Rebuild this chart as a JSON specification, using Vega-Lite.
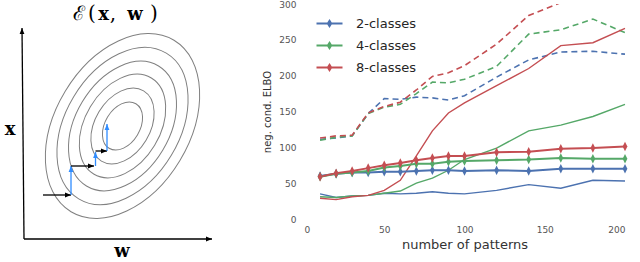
{
  "$schema": "https://vega.github.io/schema/vega-lite/v6.json",
  "background": "white",
  "padding": 0,
  "spacing": 22,
  "resolve": {"scale": {"color": "independent", "shape": "independent", "size": "independent"}, "legend": {"color": "independent"}},
  "config": {
    "view": {"stroke": null},
    "font": "DejaVu Sans"
  },
  "hconcat": [
    {
      "width": 240,
      "height": 262,
      "encoding": {
        "x": {"field": "x", "type": "quantitative", "scale": {"domain": [0, 240], "nice": false, "zero": false}, "axis": null},
        "y": {"field": "y", "type": "quantitative", "scale": {"domain": [-4, 258], "nice": false, "zero": false}, "axis": null}
      },
      "layer": [
        {
          "data": {"values": [
            {"x": 122.5, "y": 136, "r": 0.26},
            {"x": 122.5, "y": 136, "r": 0.41},
            {"x": 122.5, "y": 136, "r": 0.56},
            {"x": 122.5, "y": 136, "r": 0.70},
            {"x": 122.5, "y": 136, "r": 0.85},
            {"x": 122.5, "y": 136, "r": 1.0}
          ]},
          "mark": {"type": "point", "shape": "M 0 -1 A 0.67 1 0 0 1 0 1 A 0.67 1 0 0 1 0 -1 Z", "angle": 31, "filled": false, "stroke": "#808080", "strokeWidth": 1, "opacity": 1},
          "encoding": {
            "size": {"field": "r", "type": "quantitative", "scale": {"type": "pow", "exponent": 2, "domain": [0, 1], "range": [0, 40000]}, "legend": null}
          }
        },
        {
          "data": {"values": [
            {"x": 24, "y": 23, "x2": 22, "y2": 234, "kind": "axis", "dir": "up"},
            {"x": 24, "y": 23, "x2": 212, "y2": 23, "kind": "axis", "dir": "right"},
            {"x": 43, "y": 67, "x2": 71, "y2": 67, "kind": "w", "dir": "right"},
            {"x": 71, "y": 67, "x2": 71, "y2": 96, "kind": "x", "dir": "up"},
            {"x": 71, "y": 96, "x2": 94, "y2": 96, "kind": "w", "dir": "right"},
            {"x": 95.5, "y": 96, "x2": 95.5, "y2": 110, "kind": "x", "dir": "up"},
            {"x": 95.5, "y": 111, "x2": 107, "y2": 111, "kind": "w", "dir": "right"},
            {"x": 107, "y": 111, "x2": 107, "y2": 138, "kind": "x", "dir": "up"}
          ]},
          "layer": [
            {
              "mark": {"type": "rule", "strokeWidth": 1.3},
              "encoding": {
                "x2": {"field": "x2"},
                "y2": {"field": "y2"},
                "color": {"field": "kind", "type": "nominal", "scale": {"domain": ["axis", "w", "x"], "range": ["#000000", "#000000", "#2f8cff"]}, "legend": null}
              }
            },
            {
              "mark": {"type": "point", "filled": true, "opacity": 1, "size": 36},
              "encoding": {
                "x": {"field": "x2", "type": "quantitative"},
                "y": {"field": "y2", "type": "quantitative"},
                "shape": {"field": "dir", "type": "nominal", "scale": {"domain": ["right", "up"], "range": ["M 0 0 L -2 -0.8 L -2 0.8 Z", "M 0 0 L -0.8 2 L 0.8 2 Z"]}, "legend": null},
                "color": {"field": "kind", "type": "nominal", "scale": {"domain": ["axis", "w", "x"], "range": ["#000000", "#000000", "#2f8cff"]}, "legend": null}
              }
            }
          ]
        },
        {
          "data": {"values": [
            {"x": 78.5, "y": 242, "label": "ℰ", "style": "script"},
            {"x": 92, "y": 242, "label": "(", "style": "plain"},
            {"x": 103.5, "y": 242, "label": "x", "style": "bold"},
            {"x": 113, "y": 242, "label": ",", "style": "plain"},
            {"x": 135, "y": 242, "label": "w", "style": "bold"},
            {"x": 154, "y": 242, "label": ")", "style": "plain"}
          ]},
          "layer": [
            {
              "transform": [{"filter": "datum.style === 'script'"}],
              "mark": {"type": "text", "font": "DejaVu Serif", "fontSize": 20, "color": "#000000", "align": "center", "baseline": "alphabetic"},
              "encoding": {"text": {"field": "label"}}
            },
            {
              "transform": [{"filter": "datum.style === 'plain'"}],
              "mark": {"type": "text", "font": "DejaVu Serif", "fontSize": 20, "color": "#000000", "align": "center", "baseline": "alphabetic"},
              "encoding": {"text": {"field": "label"}}
            },
            {
              "transform": [{"filter": "datum.style === 'bold'"}],
              "mark": {"type": "text", "font": "DejaVu Serif", "fontSize": 18, "fontWeight": "bold", "color": "#000000", "align": "center", "baseline": "alphabetic"},
              "encoding": {"text": {"field": "label"}}
            }
          ]
        },
        {
          "data": {"values": [{"x": 10, "y": 132, "label": "x"}, {"x": 122, "y": 10, "label": "w"}]},
          "mark": {"type": "text", "font": "DejaVu Serif", "fontSize": 18, "fontWeight": "bold", "color": "#000000", "align": "center", "baseline": "middle"},
          "encoding": {"text": {"field": "label"}}
        }
      ]
    },
    {
      "width": 321,
      "height": 215,
      "data": {"values": [
        {"n": 10, "cls": "2-classes", "dashed": 111, "solid": 35, "mean": 60},
        {"n": 20, "cls": "2-classes", "dashed": 113, "solid": 30, "mean": 63},
        {"n": 30, "cls": "2-classes", "dashed": 116, "solid": 32, "mean": 65},
        {"n": 40, "cls": "2-classes", "dashed": 147, "solid": 33, "mean": 65},
        {"n": 50, "cls": "2-classes", "dashed": 168, "solid": 36, "mean": 66},
        {"n": 60, "cls": "2-classes", "dashed": 167, "solid": 35, "mean": 66},
        {"n": 70, "cls": "2-classes", "dashed": 170, "solid": 36, "mean": 67},
        {"n": 80, "cls": "2-classes", "dashed": 169, "solid": 38, "mean": 68},
        {"n": 90, "cls": "2-classes", "dashed": 166, "solid": 36, "mean": 68},
        {"n": 100, "cls": "2-classes", "dashed": 172, "solid": 35, "mean": 67},
        {"n": 120, "cls": "2-classes", "dashed": 198, "solid": 40, "mean": 68},
        {"n": 140, "cls": "2-classes", "dashed": 222, "solid": 48, "mean": 67},
        {"n": 160, "cls": "2-classes", "dashed": 233, "solid": 43, "mean": 70},
        {"n": 180, "cls": "2-classes", "dashed": 234, "solid": 54, "mean": 70},
        {"n": 200, "cls": "2-classes", "dashed": 230, "solid": 53, "mean": 70},
        {"n": 10, "cls": "4-classes", "dashed": 110, "solid": 31, "mean": 59},
        {"n": 20, "cls": "4-classes", "dashed": 114, "solid": 30, "mean": 63},
        {"n": 30, "cls": "4-classes", "dashed": 116, "solid": 32, "mean": 65},
        {"n": 40, "cls": "4-classes", "dashed": 147, "solid": 33, "mean": 67},
        {"n": 50, "cls": "4-classes", "dashed": 156, "solid": 36, "mean": 72},
        {"n": 60, "cls": "4-classes", "dashed": 160, "solid": 39, "mean": 74},
        {"n": 70, "cls": "4-classes", "dashed": 175, "solid": 50, "mean": 77},
        {"n": 80, "cls": "4-classes", "dashed": 191, "solid": 57, "mean": 77},
        {"n": 90, "cls": "4-classes", "dashed": 190, "solid": 68, "mean": 80},
        {"n": 100, "cls": "4-classes", "dashed": 195, "solid": 83, "mean": 81},
        {"n": 120, "cls": "4-classes", "dashed": 213, "solid": 99, "mean": 82},
        {"n": 140, "cls": "4-classes", "dashed": 258, "solid": 123, "mean": 83},
        {"n": 160, "cls": "4-classes", "dashed": 264, "solid": 131, "mean": 85},
        {"n": 180, "cls": "4-classes", "dashed": 279, "solid": 143, "mean": 84},
        {"n": 200, "cls": "4-classes", "dashed": 260, "solid": 160, "mean": 84},
        {"n": 10, "cls": "8-classes", "dashed": 113, "solid": 29, "mean": 59},
        {"n": 20, "cls": "8-classes", "dashed": 116, "solid": 27, "mean": 64},
        {"n": 30, "cls": "8-classes", "dashed": 117, "solid": 31, "mean": 67},
        {"n": 40, "cls": "8-classes", "dashed": 148, "solid": 33, "mean": 71},
        {"n": 50, "cls": "8-classes", "dashed": 157, "solid": 40, "mean": 75},
        {"n": 60, "cls": "8-classes", "dashed": 163, "solid": 54, "mean": 78},
        {"n": 70, "cls": "8-classes", "dashed": 180, "solid": 88, "mean": 82},
        {"n": 80, "cls": "8-classes", "dashed": 199, "solid": 123, "mean": 85},
        {"n": 90, "cls": "8-classes", "dashed": 204, "solid": 148, "mean": 88},
        {"n": 100, "cls": "8-classes", "dashed": 214, "solid": 162, "mean": 88},
        {"n": 120, "cls": "8-classes", "dashed": 244, "solid": 186, "mean": 93},
        {"n": 140, "cls": "8-classes", "dashed": 284, "solid": 210, "mean": 94},
        {"n": 160, "cls": "8-classes", "dashed": 302, "solid": 242, "mean": 98},
        {"n": 180, "cls": "8-classes", "dashed": 320, "solid": 246, "mean": 99},
        {"n": 200, "cls": "8-classes", "dashed": 335, "solid": 266, "mean": 101}
      ]},
      "transform": [{"fold": ["dashed", "solid", "mean"], "as": ["series", "elbo"]}],
      "encoding": {
        "x": {"field": "n", "type": "quantitative", "scale": {"domain": [0, 200], "nice": false, "zero": false},
          "axis": {"values": [0, 50, 100, 150, 200], "title": "number of patterns", "grid": false, "domain": false, "ticks": false, "labelFontSize": 9, "labelColor": "#555555", "labelPadding": 6, "titleFontSize": 13, "titleFontWeight": "normal", "titleColor": "#333333", "titlePadding": 4}},
        "y": {"field": "elbo", "type": "quantitative", "scale": {"domain": [0, 300], "nice": false},
          "axis": {"values": [0, 50, 100, 150, 200, 250, 300], "title": "neg. cond. ELBO", "grid": false, "domain": false, "ticks": false, "labelFontSize": 9, "labelColor": "#555555", "labelPadding": 8, "titleFontSize": 10, "titleFontWeight": "normal", "titleColor": "#333333", "titlePadding": 6}},
        "color": {"field": "cls", "type": "nominal", "scale": {"domain": ["2-classes", "4-classes", "8-classes"], "range": ["#4C72B0", "#55A868", "#C44E52"]},
          "legend": {"orient": "none", "legendX": 18, "legendY": 12, "title": null, "symbolType": "M -2 0 L 2 0 M 0 -0.4 L 0.25 0 L 0 0.4 L -0.25 0 Z", "symbolSize": 169, "symbolStrokeWidth": 2, "labelFontSize": 13, "labelColor": "#262626", "labelOffset": 19, "rowPadding": 7}}
      },
      "layer": [
        {"transform": [{"filter": "datum.series === 'dashed'"}], "mark": {"type": "line", "strokeDash": [6, 4], "strokeWidth": 1.6, "clip": true}},
        {"transform": [{"filter": "datum.series === 'solid'"}], "mark": {"type": "line", "strokeWidth": 1.4}},
        {"transform": [{"filter": "datum.series === 'mean'"}], "mark": {"type": "line", "strokeWidth": 2}},
        {"transform": [{"filter": "datum.series === 'mean'"}], "mark": {"type": "point", "shape": "M 0 -1 L 0.5 0 L 0 1 L -0.5 0 Z", "filled": true, "opacity": 1, "size": 90}}
      ]
    }
  ]
}
